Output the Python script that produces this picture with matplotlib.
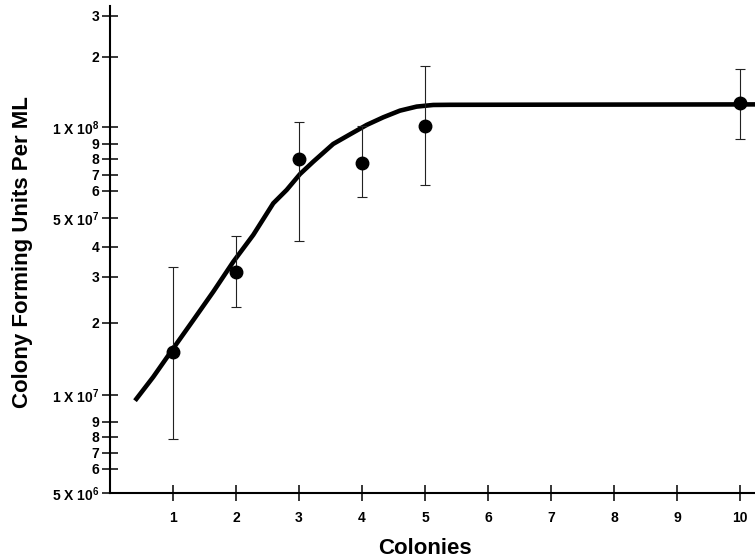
import numpy as np
import matplotlib
matplotlib.use("Agg")
from matplotlib import pyplot as plt
from matplotlib.ticker import FixedLocator, FixedFormatter

plt.rcParams['font.family'] = ['Liberation Sans', 'DejaVu Sans']
plt.rcParams['font.weight'] = 'bold'
plt.rcParams['mathtext.fontset'] = 'custom'
plt.rcParams['mathtext.rm'] = 'Liberation Sans:bold'
plt.rcParams['mathtext.bf'] = 'Liberation Sans:bold'
plt.rcParams['mathtext.default'] = 'rm'

# measured points with error bars
colonies = [1, 2, 3, 4, 5, 10]
cfu = [1.51e7, 3.15e7, 8.0e7, 7.74e7, 1.01e8, 1.27e8]
cfu_hi = [3.30e7, 4.35e7, 1.05e8, 1.01e8, 1.83e8, 1.78e8]
cfu_lo = [7.87e6, 2.30e7, 4.19e7, 5.76e7, 6.36e7, 9.28e7]

# fitted curve
curve_x = [0.397, 0.687, 1.005, 1.322, 1.640, 1.957, 2.275, 2.592, 2.805, 3.016,
           3.227, 3.544, 3.810, 4.075, 4.338, 4.603, 4.868, 5.132, 5.397, 10.3]
curve_y = [9.78e6, 1.19e7, 1.567e7, 2.05e7, 2.635e7, 3.47e7, 4.39e7, 5.52e7,
           6.06e7, 7.05e7, 7.82e7, 9.0e7, 9.55e7, 1.02e8, 1.10e8, 1.175e8,
           1.223e8, 1.243e8, 1.245e8, 1.25e8]

x_ticks = [1, 2, 3, 4, 5, 6, 7, 8, 9, 10]
y_ticks = [5e6, 6e6, 7e6, 8e6, 9e6, 1e7, 2e7, 3e7, 4e7, 5e7, 6e7, 7e7, 8e7, 9e7,
           1e8, 2e8, 3e8]
y_tick_labels = ["5 X 10$^{6}$", "6", "7", "8", "9", "1 X 10$^{7}$", "2", "3", "4",
                 "5 X 10$^{7}$", "6", "7", "8", "9", "1 X 10$^{8}$", "2", "3"]

# the printed log axis is hand drawn and uneven, so the scale follows
# where its tick marks actually sit (pixels from the top of the figure)
scale_vals = np.array([4e6] + y_ticks + [4e8])
scale_px = np.array([522, 493, 469, 453, 437, 422, 395, 323, 277, 247, 218, 191,
                     175, 159, 144, 127, 57, 16, -13], dtype=float)
scale_log = np.log10(scale_vals)


def forward(v):
    v = np.clip(np.asarray(v, dtype=float), 1e-300, None)
    return np.interp(np.log10(v), scale_log, -scale_px)


def inverse(t):
    return 10 ** np.interp(np.asarray(t, dtype=float), -scale_px, scale_log)


fig = plt.figure(figsize=(7.55, 5.6), dpi=100)
ax = fig.add_axes([110 / 755, 67 / 560, 645 / 755, 487 / 560])
ax.set_yscale('function', functions=(forward, inverse))

ax.plot(curve_x, curve_y, color='black', lw=3.3, solid_capstyle='butt',
        solid_joinstyle='round', zorder=2)

cfu_arr = np.array(cfu)
yerr = [cfu_arr - np.array(cfu_lo), np.array(cfu_hi) - cfu_arr]
ax.errorbar(colonies, cfu, yerr=yerr, fmt='o', color='black', ms=9,
            ecolor='#222222', elinewidth=0.8, capsize=3.8, capthick=0.8, zorder=3)

ax.set_xlim(0, 10.24)
ax.set_ylim(5e6, 3.31e8)

ax.spines['top'].set_visible(False)
ax.spines['right'].set_visible(False)
ax.spines['left'].set_linewidth(1.5)
ax.spines['bottom'].set_linewidth(1.5)

ax.xaxis.set_major_locator(FixedLocator(x_ticks))
ax.xaxis.set_major_formatter(FixedFormatter([str(t) for t in x_ticks]))
ax.yaxis.set_major_locator(FixedLocator(y_ticks))
ax.yaxis.set_major_formatter(FixedFormatter(y_tick_labels))
ax.yaxis.set_minor_locator(FixedLocator([]))

ax.tick_params(axis='x', direction='inout', length=12, width=1.1, pad=7,
               labelsize=10)
ax.tick_params(axis='y', direction='inout', length=11, width=1.1, pad=2,
               labelsize=10)
for lab in ax.get_xticklabels() + ax.get_yticklabels():
    lab.set_fontweight('bold')

ax.set_xlabel("Colonies", fontsize=16, fontweight='bold')
ax.xaxis.set_label_coords(0.488, -0.093)
ax.set_ylabel("Colony Forming Units Per ML", fontsize=16, fontweight='bold')
ax.yaxis.set_label_coords(-0.119, 0.495)

fig.savefig("out.png", dpi=100)
